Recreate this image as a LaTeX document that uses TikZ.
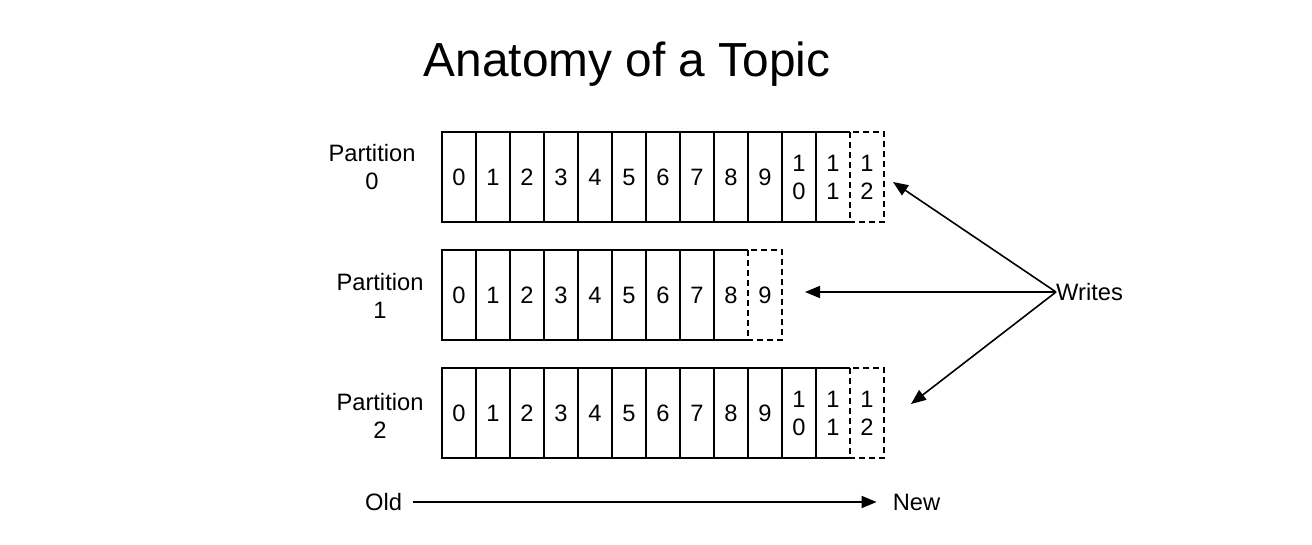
\documentclass[tikz,border=0pt]{standalone}
\usepackage{fontspec}
\setmainfont{Liberation Sans}
\usetikzlibrary{arrows.meta}
\begin{document}
\begin{tikzpicture}[x=1pt,y=-1pt,
  txt/.style={font=\fontsize{23.7}{28}\selectfont, inner sep=0pt, align=center},
  cell/.style={txt, minimum width=34pt, minimum height=90pt},
  box/.style={line width=1.6pt},
  dbox/.style={line width=1.6pt, dash pattern=on 6pt off 4pt},
  arr/.style={line width=1.6pt, -{Triangle[length=15pt,width=12pt]}}]
\useasboundingbox (0,0) rectangle (1312,544);

\node[font=\fontsize{47.8}{57}\selectfont, inner sep=0pt, anchor=base] (title) at (627,76) {Anatomy of a Topic};

% Partition 0
\node[txt] (lab0) at (372,167.5) {Partition\\0};
\foreach \t [count=\i from 0] in {0,1,2,3,4,5,6,7,8,9,{1\\0},{1\\1},{1\\2}} {
  \pgfmathsetmacro\cx{459+34*\i}
  \node[cell] (a-\i) at (\cx,177) {\t};
}
\foreach \i in {0,...,10} \draw[box] (a-\i.north west) rectangle (a-\i.south east);
\draw[box] (a-11.north east) -- (a-11.north west) -- (a-11.south west) -- (a-11.south east);
\draw[dbox] (a-12.north west) rectangle (a-12.south east);

% Partition 1
\node[txt] (lab1) at (380,295.5) {Partition\\1};
\foreach \t [count=\i from 0] in {0,1,2,3,4,5,6,7,8,9} {
  \pgfmathsetmacro\cx{459+34*\i}
  \node[cell] (b-\i) at (\cx,295) {\t};
}
\foreach \i in {0,...,7} \draw[box] (b-\i.north west) rectangle (b-\i.south east);
\draw[box] (b-8.north east) -- (b-8.north west) -- (b-8.south west) -- (b-8.south east);
\draw[dbox] (b-9.north west) rectangle (b-9.south east);

% Partition 2
\node[txt] (lab2) at (380,415.5) {Partition\\2};
\foreach \t [count=\i from 0] in {0,1,2,3,4,5,6,7,8,9,{1\\0},{1\\1},{1\\2}} {
  \pgfmathsetmacro\cx{459+34*\i}
  \node[cell] (c-\i) at (\cx,413) {\t};
}
\foreach \i in {0,...,10} \draw[box] (c-\i.north west) rectangle (c-\i.south east);
\draw[box] (c-11.north east) -- (c-11.north west) -- (c-11.south west) -- (c-11.south east);
\draw[dbox] (c-12.north west) rectangle (c-12.south east);

% Writes
\node[txt, anchor=west] (writes) at (1056,292) {Writes};
\coordinate (t0) at (893,182);
\coordinate (t1) at (805,292);
\coordinate (t2) at (911,404);
\draw[arr] (writes.west) -- (t0);
\draw[arr] (writes.west) -- (t1);
\draw[arr] (writes.west) -- (t2);

% Old -> New
\node[txt] (old) at (383.5,502) {Old};
\node[txt] (new) at (916.5,502) {New};
\draw[arr, shorten <=11pt, shorten >=16pt] (old.east) -- (new.west);
\end{tikzpicture}
\end{document}
